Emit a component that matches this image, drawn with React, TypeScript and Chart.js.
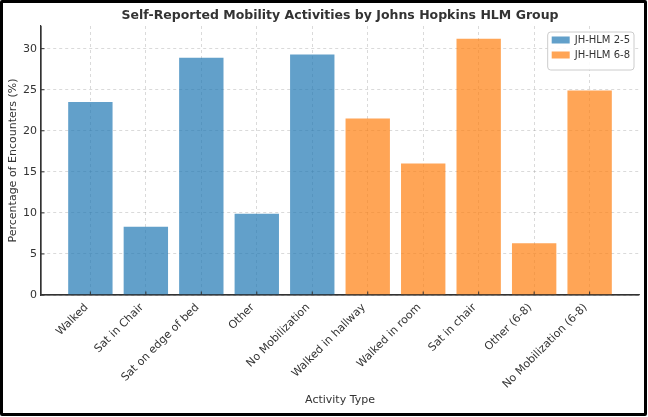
import { useEffect, useRef } from "react"
import { Chart, registerables, type Plugin } from "chart.js"

Chart.register(...registerables)

const activities = [
  "Walked",
  "Sat in Chair",
  "Sat on edge of bed",
  "Other",
  "No Mobilization",
  "Walked in hallway",
  "Walked in room",
  "Sat in chair",
  "Other (6-8)",
  "No Mobilization (6-8)",
]
const groupLabels = ["JH-HLM 2-5", "JH-HLM 6-8"]
const lowGroupValues = [23.5, 8.3, 28.9, 9.9, 29.3]
const highGroupValues = [21.5, 16.0, 31.2, 6.3, 24.9]
const yTicks = [0, 5, 10, 15, 20, 25, 30]

const BLUE = "rgba(31, 119, 180, 0.7)"
const ORANGE = "rgba(255, 127, 14, 0.7)"
const FONT = "'DejaVu Sans', Verdana, sans-serif"
const TEXT = "#333333"
const SPINE = "#333333"

// solid left/bottom spines plus short inward tick marks
const spines: Plugin = {
  id: "spines",
  afterDraw(chart) {
    const { ctx, chartArea } = chart
    const xs = chart.scales.x
    const ys = chart.scales.y
    ctx.save()
    ctx.strokeStyle = SPINE
    ctx.lineWidth = 1.2
    ctx.setLineDash([])
    ctx.beginPath()
    ctx.moveTo(chartArea.left, chartArea.top)
    ctx.lineTo(chartArea.left, chartArea.bottom)
    ctx.lineTo(chartArea.right, chartArea.bottom)
    ctx.stroke()
    ctx.lineWidth = 1
    ctx.beginPath()
    xs.ticks.forEach((t) => {
      const px = xs.getPixelForValue(t.value)
      ctx.moveTo(px, chartArea.bottom)
      ctx.lineTo(px, chartArea.bottom - 3.5)
    })
    ys.ticks.forEach((t) => {
      const py = ys.getPixelForValue(t.value)
      ctx.moveTo(chartArea.left, py)
      ctx.lineTo(chartArea.left + 3.5, py)
    })
    ctx.stroke()
    ctx.restore()
  },
}

// legend drawn inside the plot, top right
const insideLegend: Plugin = {
  id: "insideLegend",
  afterDraw(chart) {
    const { ctx, chartArea } = chart
    const sets = chart.data.datasets
    ctx.save()
    ctx.font = `10px ${FONT}`
    const textW = Math.max(...sets.map((d) => ctx.measureText(d.label ?? "").width))
    const w = 27 + textW + 4
    const h = 8 + sets.length * 15
    const x = chartArea.right - 5 - w
    const y = chartArea.top + 6
    ctx.beginPath()
    ctx.roundRect(x, y, w, h, 3)
    ctx.fillStyle = "rgba(255,255,255,0.9)"
    ctx.fill()
    ctx.strokeStyle = "#cccccc"
    ctx.lineWidth = 1
    ctx.stroke()
    sets.forEach((d, i) => {
      const cy = y + 8 + i * 15
      ctx.fillStyle = d.backgroundColor as string
      ctx.fillRect(x + 4, cy - 3.5, 18, 7)
      ctx.fillStyle = TEXT
      ctx.textBaseline = "middle"
      ctx.textAlign = "left"
      ctx.fillText(d.label ?? "", x + 27, cy)
    })
    ctx.restore()
  },
}

export default function App() {
  const canvasRef = useRef<HTMLCanvasElement>(null)
  const chartRef = useRef<Chart | null>(null)

  useEffect(() => {
    if (!canvasRef.current) return
    const ctx = canvasRef.current.getContext("2d")
    if (!ctx) return

    if (chartRef.current) chartRef.current.destroy()

    const gridStyle = {
      color: "rgba(150,150,150,0.45)",
      lineWidth: 0.8,
      drawTicks: false,
    }
    const borderStyle = { color: SPINE, width: 1.2, dash: [3, 3] }

    chartRef.current = new Chart(ctx, {
      type: "bar",
      data: {
        datasets: [
          {
            label: groupLabels[0],
            data: lowGroupValues.map((v, i) => ({ x: i, y: v })),
            backgroundColor: BLUE,
          },
          {
            label: groupLabels[1],
            data: highGroupValues.map((v, i) => ({ x: i + lowGroupValues.length, y: v })),
            backgroundColor: ORANGE,
          },
        ],
      },
      options: {
        responsive: false,
        animation: false,
        layout: { padding: { left: 0, right: 5, top: 0, bottom: 0 } },
        datasets: {
          bar: { grouped: false, barPercentage: 0.8, categoryPercentage: 1 },
        },
        plugins: {
          legend: { display: false },
          tooltip: { enabled: false },
          title: {
            display: true,
            text: "Self-Reported Mobility Activities by Johns Hopkins HLM Group",
            fullSize: false,
            color: TEXT,
            font: { family: FONT, size: 12.5, weight: "bold" },
            padding: { top: 5, bottom: 3 },
          },
        },
        scales: {
          x: {
            type: "linear",
            offset: false,
            min: -0.89,
            max: activities.length - 1 + 0.89,
            z: 1,
            grid: { ...gridStyle, offset: false },
            border: borderStyle,
            afterBuildTicks: (scale) => {
              scale.ticks = activities.map((_, i) => ({ value: i }))
            },
            afterFit: (scale) => {
              scale.height = 118
            },
            ticks: {
              autoSkip: false,
              maxRotation: 45,
              minRotation: 45,
              padding: 6,
              labelOffset: -4,
              color: TEXT,
              font: { family: FONT, size: 11 },
              callback: (value) => activities[Number(value)] ?? "",
            },
            title: {
              display: true,
              text: "Activity Type",
              color: TEXT,
              font: { family: FONT, size: 11 },
              padding: { top: 4, bottom: 6 },
            },
          },
          y: {
            min: 0,
            max: 32.76,
            z: 1,
            grid: gridStyle,
            border: borderStyle,
            afterBuildTicks: (scale) => {
              scale.ticks = yTicks.map((v) => ({ value: v }))
            },
            afterFit: (scale) => {
              scale.width = 38
            },
            ticks: {
              padding: 4,
              color: TEXT,
              font: { family: FONT, size: 11 },
            },
            title: {
              display: true,
              text: "Percentage of Encounters (%)",
              color: TEXT,
              font: { family: FONT, size: 11 },
              padding: { top: 4, bottom: 4 },
            },
          },
        },
      },
      plugins: [spines, insideLegend],
    })

    return () => {
      if (chartRef.current) {
        chartRef.current.destroy()
        chartRef.current = null
      }
    }
  }, [])

  return (
    <div
      style={{
        position: "absolute",
        left: 0,
        top: 0,
        width: 647,
        height: 416,
        boxSizing: "border-box",
        border: "3px solid #000",
        borderRadius: 2,
        background: "#fff",
      }}
    >
      <canvas ref={canvasRef} width={641} height={410} style={{ display: "block" }}></canvas>
    </div>
  )
}
